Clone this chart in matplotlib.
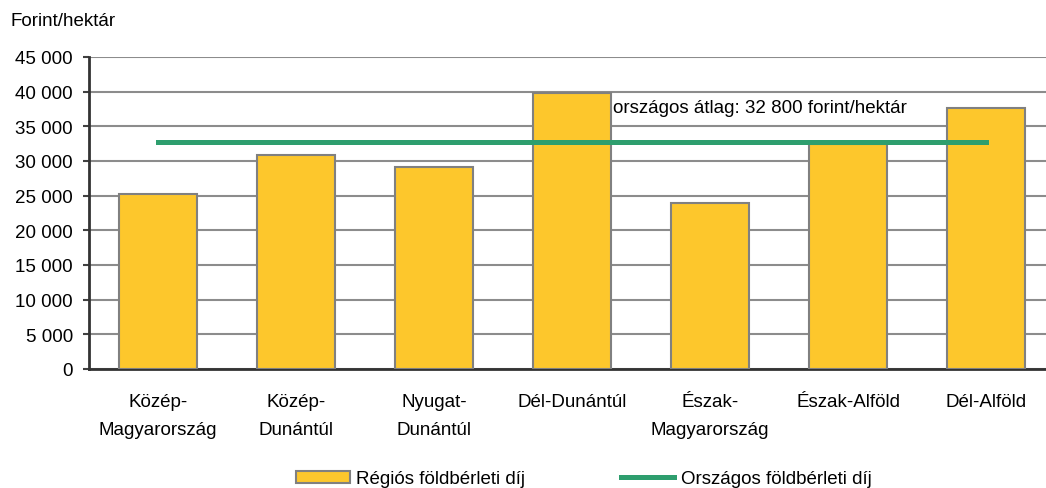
import matplotlib.pyplot as plt
from matplotlib.patches import Patch
from matplotlib.lines import Line2D
import numpy as np

plt.rcParams['font.family'] = ['Liberation Sans', 'DejaVu Sans']

regions = ['Közép-\nMagyarország', 'Közép-\nDunántúl', 'Nyugat-\nDunántúl', 'Dél-Dunántúl',
           'Észak-\nMagyarország', 'Észak-Alföld', 'Dél-Alföld']
values = [25200, 30800, 29200, 39800, 23900, 32400, 37700]
national_avg = 32800
yticks = [0, 5000, 10000, 15000, 20000, 25000, 30000, 35000, 40000, 45000]

bar_color = '#FDC72C'
line_color = '#2E9E6E'
fs = 13.5

W, H = 1046, 489
fig = plt.figure(figsize=(W / 100, H / 100), dpi=100)
ax = fig.add_axes([89 / W, (H - 370) / H, (1055 - 89) / W, (370 - 58) / H])

x = np.arange(len(regions))
ax.bar(x, values, width=0.565, color=bar_color, edgecolor='#808080', linewidth=1.5, zorder=3)
ax.plot([x[0], x[-1]], [national_avg, national_avg], color=line_color, linewidth=3.6, zorder=4)

ax.text(3.3, 37700, 'országos átlag: 32 800 forint/hektár', fontsize=fs,
        ha='left', va='center', zorder=5)

ax.set_xlim(-0.5, len(regions) - 0.5)
ax.set_ylim(0, 45000)
ax.set_yticks(yticks)
ax.set_yticklabels([f'{v:,}'.replace(',', ' ') for v in yticks], fontsize=fs)
ax.set_xticks(x)
ax.set_xticklabels(regions, fontsize=fs, linespacing=1.9)
ax.tick_params(axis='x', length=0, pad=17)
ax.tick_params(axis='y', length=4.5, width=1.5, color='#404040', pad=7)
ax.yaxis.grid(True, color='#8c8c8c', linewidth=1.5, zorder=0)
ax.set_axisbelow(True)
for side in ['top', 'right']:
    ax.spines[side].set_visible(False)
for side in ['left', 'bottom']:
    ax.spines[side].set_color('#333333')
    ax.spines[side].set_linewidth(2)

fig.text(10 / W, 1 - 22 / H, 'Forint/hektár', fontsize=fs, ha='left', va='center')

handles = [Patch(facecolor=bar_color, edgecolor='#808080', linewidth=1.5),
           Line2D([0], [0], color=line_color, linewidth=3.6)]
fig.legend(handles, ['Régiós földbérleti díj', 'Országos földbérleti díj'],
           loc='center', bbox_to_anchor=(584 / W, 1 - 480 / H), ncol=2, frameon=False,
           fontsize=fs, handlelength=2.85, handletextpad=0.35, columnspacing=5.1,
           handleheight=0.65, borderpad=0)

fig.savefig('out.png', dpi=100)
